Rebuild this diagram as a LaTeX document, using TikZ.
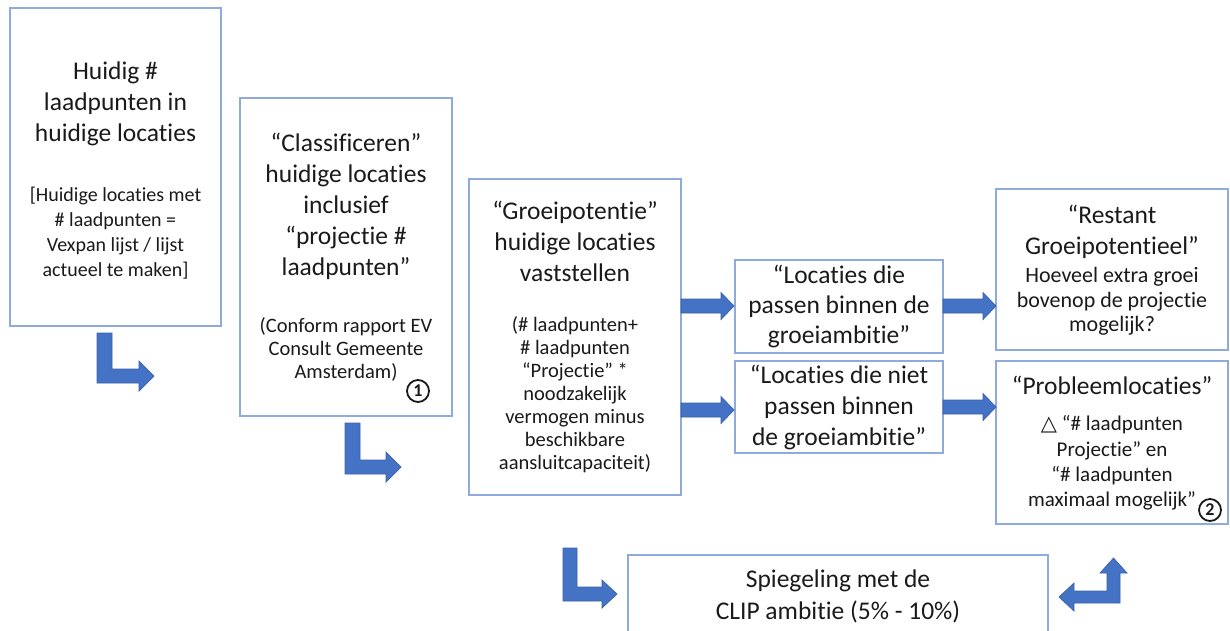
\documentclass[tikz,border=0pt]{standalone}
\usepackage{fontspec}
\setmainfont{Carlito}[Ligatures={NoCommon,NoDiscretionary}]
\newfontfamily\dejavu{DejaVu Sans}
\definecolor{boxline}{HTML}{8FAADC}
\definecolor{arrfill}{HTML}{4472C4}
\definecolor{arrline}{HTML}{3A62AA}
\definecolor{txt}{HTML}{1A1A1A}
\tikzset{
  box/.style={draw=boxline, line width=1.4pt, fill=white, inner sep=0pt},
  big/.style={align=center, text=txt, inner sep=0pt, font=\fontsize{25.5}{31}\selectfont},
  small/.style={align=center, text=txt, inner sep=0pt, font=\fontsize{20}{25}\selectfont},
  arr/.style={fill=arrfill, draw=arrline, line width=0.7pt, line join=miter},
  numc/.style={circle, draw=txt, line width=1.8pt, inner sep=0pt, minimum size=22pt, text=txt, font=\fontsize{18}{18}\selectfont\bfseries}
}
\newcommand\blockR[3]{%
  \filldraw[arr] (#1,#3-7) -- (#2-13,#3-7) -- (#2-13,#3-13.5) -- (#2,#3) -- (#2-13,#3+13.5) -- (#2-13,#3+7) -- (#1,#3+7) -- cycle;}
\begin{document}
\begin{tikzpicture}[x=1pt,y=-1pt]
\useasboundingbox (0,0) rectangle (1230,630);
\clip (0,0) rectangle (1230,630);
\fill[white] (0,0) rectangle (1230,630);

% boxes
\node[box, minimum width=211pt, minimum height=318pt] (A) at (115.5,167) {};
\node[box, minimum width=212pt, minimum height=318pt] (B) at (346,257) {};
\node[box, minimum width=212pt, minimum height=316pt] (C) at (575,337) {};
\node[box, minimum width=208pt, minimum height=93pt] (D) at (839,306.5) {};
\node[box, minimum width=208pt, minimum height=92pt] (E) at (839,407) {};
\node[box, minimum width=232pt, minimum height=161pt] (F) at (1112,269.5) {};
\node[box, minimum width=232pt, minimum height=163pt] (G) at (1112,442.5) {};
\node[box, minimum width=420pt, minimum height=110pt] (H) at (838,610) {};

% texts
\node[big] (At) at (115.5,104) {Huidig \#\\laadpunten in\\huidige locaties};
\node[small] (As) at (115.5,233) {[Huidige locaties met\\\# laadpunten =\\Vexpan lijst / lijst\\actueel te maken]};

\node[big] (Bt) at (346,206) {“Classificeren”\\huidige locaties\\inclusief\\“projectie \#\\laadpunten”};
\node[small, font=\fontsize{20.5}{22.7}\selectfont] (Bs) at (346,349.5) {(Conform rapport EV\\Consult Gemeente\\Amsterdam)};
\node[numc] (n1) at (418,391) {1};

\node[big] (Ct) at (575,241) {“Groeipotentie”\\huidige locaties\\vaststellen};
\node[small, font=\fontsize{20.5}{23}\selectfont] (Cs) at (575,395) {(\# laadpunten+\\\# laadpunten\\“Projectie” *\\noodzakelijk\\vermogen minus\\beschikbare\\aansluitcapaciteit)};

\node[big, font=\fontsize{25.5}{30}\selectfont] (Dt) at (839,306) {“Locaties die\\passen binnen de\\groeiambitie”};
\node[big] (Et) at (839,407) {“Locaties die niet\\passen binnen\\de groeiambitie”};

\node[big] (Ft) at (1112,231.5) {“Restant\\Groeipotentieel”};
\node[small, font=\fontsize{22}{24.5}\selectfont] (Fs) at (1112,301.5) {Hoeveel extra groei\\bovenop de projectie\\mogelijk?};

\node[big] (Gt) at (1112,385) {“Probleemlocaties”};
\node[small, font=\fontsize{21}{25.3}\selectfont] (Gs) at (1112,463) {{\dejavu △}\ “\# laadpunten\\Projectie” en\\“\# laadpunten\\maximaal mogelijk”};
\node[numc] (n2) at (1210,510) {2};

\node[big, font=\fontsize{25.5}{32}\selectfont] (Ht) at (838,596) {Spiegeling met de\\CLIP ambitie (5\% - 10\%)};

% bent arrows
\filldraw[arr] (97,333) -- (112,333) -- (112,369) -- (139,369) -- (139,361) -- (154,376) -- (139,391) -- (139,383) -- (97,383) -- cycle;
\filldraw[arr] (345,423) -- (360,423) -- (360,460) -- (386,460) -- (386,452) -- (401,467) -- (386,482) -- (386,474) -- (345,474) -- cycle;
\filldraw[arr] (563,548) -- (577,548) -- (577,587) -- (602,587) -- (602,580) -- (617,594) -- (602,608) -- (602,601) -- (563,601) -- cycle;
\filldraw[arr] (1059,597) -- (1074,583) -- (1074,591) -- (1107,591) -- (1107,573) -- (1100,573) -- (1113.5,558) -- (1127,573) -- (1120,573) -- (1120,603) -- (1074,603) -- (1074,611) -- cycle;

% straight arrows
\blockR{681}{734}{306}
\blockR{681}{734}{410}
\blockR{943}{996}{306}
\blockR{943}{996}{407}
\end{tikzpicture}
\end{document}
